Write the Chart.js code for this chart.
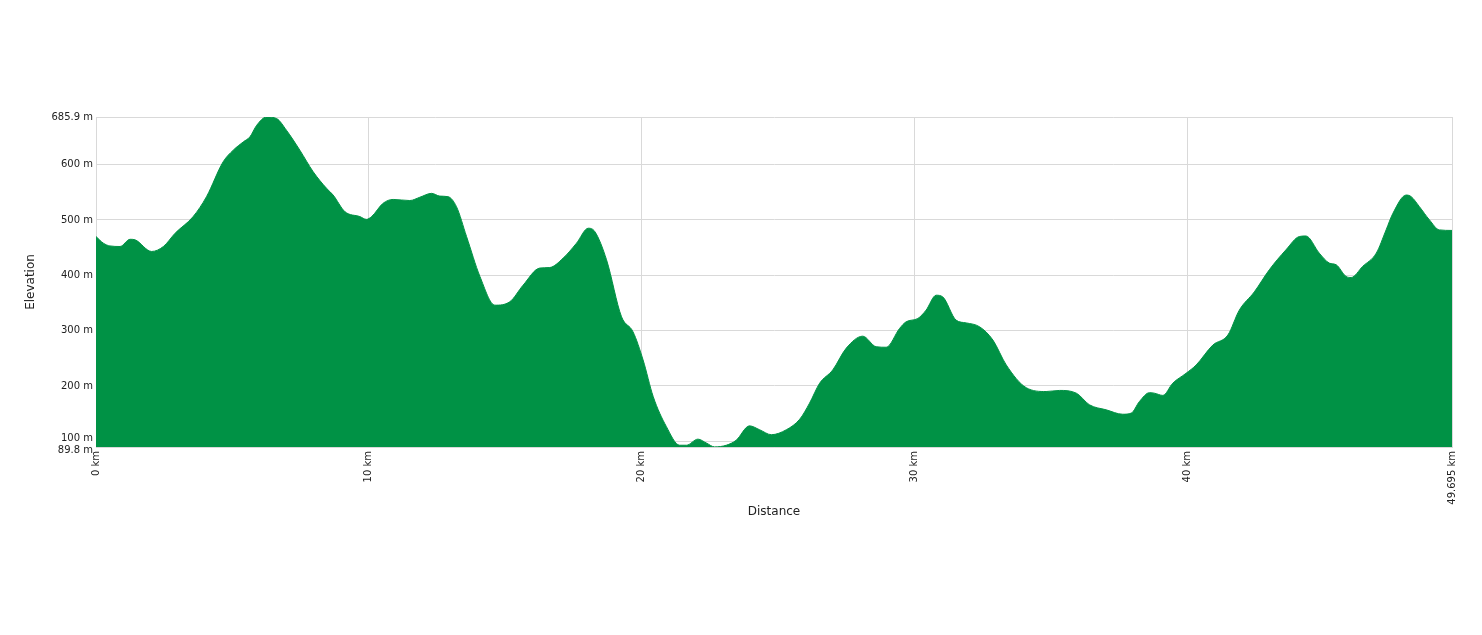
<!DOCTYPE html>
<html>
<head>
<meta charset="utf-8">
<script src="https://cdn.jsdelivr.net/npm/chart.js@4"></script>
<style>
  html, body { margin: 0; padding: 0; background: #fff; }
  #wrap { width: 1482px; height: 635px; }
</style>
</head>
<body>
<div id="wrap"><canvas id="profile"></canvas></div>
<script>
// distance along the route (km) and elevation (m)
const distanceKm = [
  0, 0.27, 0.51, 0.88, 1.25, 1.43, 2.04, 2.47, 2.9, 3.56, 4.05, 4.66, 5.03, 5.4, 5.64,
  5.89, 6.25, 6.62, 6.98, 7.47, 7.96, 8.45, 8.69, 9.12, 9.67, 9.91, 10.1, 10.52, 10.89,
  11.5, 11.87, 12.3, 12.6, 12.9, 13.21, 13.58, 14.07, 14.62, 15.16, 15.65, 16.26, 16.63,
  17.12, 17.61, 18.04, 18.28, 18.71, 19.26, 19.68, 20.05, 20.42, 20.9, 21.39, 21.64,
  22.06, 22.37, 22.67, 23.1, 23.46, 23.95, 24.32, 24.75, 25.3, 25.79, 26.15, 26.52, 27.0,
  27.49, 28.1, 28.59, 28.96, 29.45, 29.69, 30.12, 30.42, 30.79, 31.03, 31.52, 31.89,
  32.38, 32.87, 33.36, 34.09, 34.82, 35.31, 35.93, 36.41, 37.02, 37.63, 37.94, 38.24,
  38.61, 38.79, 39.1, 39.46, 39.95, 40.32, 40.93, 41.48, 41.9, 42.45, 43.0, 43.61, 44.1,
  44.34, 44.83, 45.2, 45.45, 45.81, 46.0, 46.42, 46.92, 47.28, 47.53, 48.02, 48.2, 48.5,
  48.87, 49.23, 49.695
];
const elevationM = [
  470, 458, 453, 452, 465, 464, 443, 452, 476, 506, 542, 605, 626, 641, 650,
  671, 685.9, 683, 662, 626, 587, 557, 545, 515, 506, 501, 506, 530, 537,
  535, 541, 548, 543, 542, 524, 470, 398, 346, 352, 382, 413, 414,
  431, 458, 485, 479, 428, 325, 298, 247, 181, 127, 93, 93,
  104, 97, 90, 93, 102, 128, 121, 112, 121, 140, 169, 205, 229,
  268, 290, 271, 270, 304, 316, 322, 337, 364, 361, 319, 314,
  307, 283, 238, 197, 190, 192, 187, 166, 157, 149, 151, 172,
  188, 187, 183, 205, 223, 238, 274, 292, 337, 370, 410, 446, 470,
  471, 440, 422, 419, 398, 396, 416, 440, 482, 512, 545, 542, 524,
  500, 482, 481
];
const yTicks = [89.8, 100, 200, 300, 400, 500, 600, 685.9];
const xTicks = [0, 10, 20, 30, 40, 49.695];

const points = distanceKm.map((d, i) => ({ x: d, y: elevationM[i] }));

// the two bottom labels sit very close; nudge them apart with an empty line
function yLabel(v) {
  if (v === 100) return [v + ' m', ''];
  if (v === 89.8) return ['', v + ' m'];
  return v + ' m';
}

new Chart(document.getElementById('profile'), {
  type: 'line',
  data: {
    datasets: [{
      data: points,
      borderColor: '#009245',
      backgroundColor: '#009245',
      borderWidth: 1,
      fill: 'start',
      pointRadius: 0,
      tension: 0.4,
      cubicInterpolationMode: 'monotone'
    }]
  },
  options: {
    responsive: true,
    maintainAspectRatio: false,
    animation: false,
    layout: { padding: { left: 20, right: 30, top: 117, bottom: 112 } },
    plugins: { legend: { display: false }, tooltip: { enabled: false } },
    scales: {
      x: {
        type: 'linear',
        min: 0,
        max: 49.695,
        afterBuildTicks: s => { s.ticks = xTicks.map(v => ({ value: v })); },
        afterFit: s => { s.height = 76; },
        ticks: {
          font: { family: 'DejaVu Sans', size: 10 },
          color: '#222',
          minRotation: 90,
          maxRotation: 90,
          padding: 4,
          callback: v => v + ' km'
        },
        grid: { color: '#d9d9d9', drawTicks: false },
        border: { color: '#d9d9d9' },
        title: {
          display: true,
          text: 'Distance',
          font: { family: 'DejaVu Sans', size: 12 },
          color: '#222',
          padding: { top: 2 }
        }
      },
      y: {
        min: 89.8,
        max: 685.9,
        afterBuildTicks: s => { s.ticks = yTicks.map(v => ({ value: v })); },
        afterFit: s => { s.width = 76; },
        ticks: {
          font: { family: 'DejaVu Sans', size: 10, lineHeight: 0.6 },
          color: '#222',
          padding: 3,
          callback: yLabel
        },
        grid: { color: '#d9d9d9', drawTicks: false },
        border: { color: '#d9d9d9' },
        title: {
          display: true,
          text: 'Elevation',
          font: { family: 'DejaVu Sans', size: 12 },
          color: '#222'
        }
      }
    }
  }
});
</script>
</body>
</html>
